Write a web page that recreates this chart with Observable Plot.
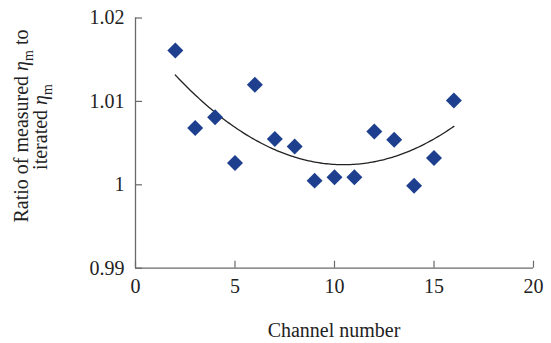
<!DOCTYPE html>
<html>
<head>
<meta charset="utf-8">
<script src="https://cdn.jsdelivr.net/npm/d3@7"></script>
<script src="https://cdn.jsdelivr.net/npm/@observablehq/plot@0.6"></script>
<style>
  html, body { margin: 0; padding: 0; background: #fff; }
  #chart { width: 551px; height: 343px; }
</style>
</head>
<body>
<div id="chart"></div>
<script>
const channels = [2, 3, 4, 5, 6, 7, 8, 9, 10, 11, 12, 13, 14, 15, 16];
const ratios = [1.0161, 1.0068, 1.0081, 1.0026, 1.0120, 1.0055, 1.0046, 1.0005, 1.0009, 1.0009, 1.0064, 1.0054, 0.9999, 1.0032, 1.0101];
const xTicks = [0, 5, 10, 15, 20];
const xTickLabels = ["0", "5", "10", "15", "20"];
const yTicks = [0.99, 1, 1.01, 1.02];
const yTickLabels = ["0.99", "1", "1.01", "1.02"];

const data = channels.map((c, i) => ({channel: c, ratio: ratios[i]}));

// Second-order polynomial least-squares trendline computed from the data
function quadFit(xs, ys) {
  const S = [0, 0, 0, 0, 0], T = [0, 0, 0];
  xs.forEach((x, i) => {
    for (let k = 0; k < 5; k++) S[k] += Math.pow(x, k);
    for (let k = 0; k < 3; k++) T[k] += Math.pow(x, k) * ys[i];
  });
  const A = [[S[0], S[1], S[2], T[0]], [S[1], S[2], S[3], T[1]], [S[2], S[3], S[4], T[2]]];
  for (let i = 0; i < 3; i++) {
    for (let j = i + 1; j < 3; j++) {
      const f = A[j][i] / A[i][i];
      for (let k = i; k < 4; k++) A[j][k] -= f * A[i][k];
    }
  }
  const c = [0, 0, 0];
  for (let i = 2; i >= 0; i--) {
    let s = A[i][3];
    for (let k = i + 1; k < 3; k++) s -= A[i][k] * c[k];
    c[i] = s / A[i][i];
  }
  return x => c[0] + c[1] * x + c[2] * x * x;
}
const f = quadFit(channels, ratios);
const fitLine = d3.range(d3.min(channels), d3.max(channels) + 0.001, 0.1).map(x => ({channel: x, ratio: f(x)}));

const W = 551, H = 343, mL = 135, mR = 18, mT = 17.5, mB = 75.3;
const plotW = W - mL - mR, plotH = H - mT - mB;
const axisColor = "#6a6a6a";

const chart = Plot.plot({
  width: W, height: H,
  marginLeft: mL, marginRight: mR, marginTop: mT, marginBottom: mB,
  x: {domain: [0, 20]},
  y: {domain: [0.99, 1.02]},
  style: {fontFamily: "'Liberation Serif', 'Times New Roman', serif", fontSize: "20px", color: "#222", background: "#fff"},
  marks: [
    Plot.axisX(xTicks, {tickSize: 0, tickPadding: 11, label: null, tickFormat: d => xTickLabels[xTicks.indexOf(d)]}),
    Plot.axisY(yTicks, {tickSize: 0, tickPadding: 11, label: null, tickFormat: d => yTickLabels[yTicks.indexOf(d)]}),
    Plot.tickX(xTicks, {x: d => d, insetTop: plotH - 7, stroke: axisColor, strokeWidth: 1.2}),
    Plot.tickY(yTicks, {y: d => d, insetRight: plotW - 7, stroke: axisColor, strokeWidth: 1.2}),
    Plot.ruleX([0], {stroke: axisColor, strokeWidth: 1.3}),
    Plot.ruleY([0.99], {stroke: axisColor, strokeWidth: 1.3}),
    Plot.line(fitLine, {x: "channel", y: "ratio", stroke: "#222", strokeWidth: 1.3}),
    Plot.dot(data, {x: "channel", y: "ratio", symbol: "diamond2", r: 7.2, fill: "#1d3f8e", stroke: "none"})
  ]
});
document.getElementById("chart").appendChild(chart);

const svg = d3.select(chart);
const font = "'Liberation Serif', 'Times New Roman', serif";

svg.append("text")
  .attr("x", (mL + W - mR) / 2).attr("y", 337)
  .attr("text-anchor", "middle")
  .attr("font-family", font).attr("font-size", 20).attr("fill", "#222")
  .text("Channel number");

function yLabelLine(x, y, before, after) {
  const t = svg.append("text")
    .attr("transform", `translate(${x},${y}) rotate(-90)`)
    .attr("text-anchor", "middle")
    .attr("font-family", font).attr("font-size", 20).attr("fill", "#222");
  t.append("tspan").text(before);
  t.append("tspan").attr("font-style", "italic").text("η");
  t.append("tspan").attr("font-size", 14).attr("dy", 5).text("m");
  if (after) t.append("tspan").attr("dy", -5).text(after);
}
yLabelLine(28, 126, "Ratio of measured ", " to");
yLabelLine(47, 127, "iterated ", "");
</script>
</body>
</html>
